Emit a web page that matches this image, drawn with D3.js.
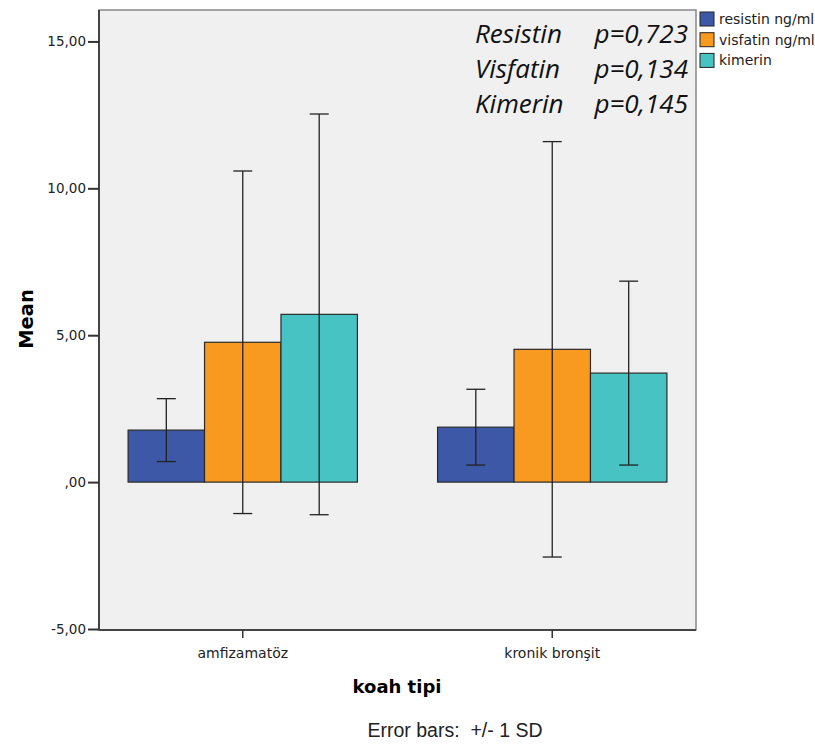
<!DOCTYPE html>
<html>
<head>
<meta charset="utf-8">
<script src="https://cdn.jsdelivr.net/npm/d3@7"></script>
<style>
  body { margin: 0; background: #fff; }
  svg { display: block; font-family: "DejaVu Sans", sans-serif; }
</style>
</head>
<body>
<div class="chart"></div>
<script>
// Data
const groups = ['amfizamatöz', 'kronik bronşit']
const series = ['resistin ng/ml', 'visfatin ng/ml', 'kimerin']
const means = [
    [1.77, 4.76, 5.71],
    [1.87, 4.52, 3.71],
]
const sds = [
    [1.07, 5.83, 6.82],
    [1.29, 7.07, 3.13],
]
const yTicks = [-5, 0, 5, 10, 15]
const notes = [
    ['Resistin', 'p=0,723'],
    ['Visfatin', 'p=0,134'],
    ['Kimerin', 'p=0,145'],
]

/* Configuration */
const width = 815
const height = 747
const plot = { left: 99, top: 10, right: 696, bottom: 630 }
const colors = ['#3e58a8', '#f89a1f', '#48c3c4']

const svg = d3
    .select('.chart')
    .append('svg')
    .attr('width', width)
    .attr('height', height)

const y = d3.scaleLinear().domain([-5, 16.07]).range([629, plot.top])

const x0 = d3
    .scaleBand()
    .domain(groups)
    .range([plot.left, plot.right])
    .paddingInner(0.259)
    .paddingOuter(0.094)

const x1 = d3.scaleBand().domain(series).range([0, x0.bandwidth()])

const color = d3.scaleOrdinal().domain(series).range(colors)

// Plot background
svg
    .append('rect')
    .attr('x', plot.left)
    .attr('y', plot.top)
    .attr('width', plot.right - plot.left)
    .attr('height', plot.bottom - plot.top)
    .attr('fill', '#f0f0f0')
    .attr('stroke', '#888')
    .attr('stroke-width', 1.5)

const rows = (g, gi) => series.map((s, si) => ({ s, v: means[gi][si], sd: sds[gi][si] }))

// Bars
const barG = svg
    .append('g')
    .selectAll('g')
    .data(groups)
    .join('g')
    .attr('transform', d => `translate(${x0(d)},0)`)

barG
    .selectAll('rect')
    .data(rows)
    .join('rect')
    .attr('x', d => x1(d.s))
    .attr('y', d => y(d.v))
    .attr('width', x1.bandwidth())
    .attr('height', d => y(0) - y(d.v))
    .attr('fill', d => color(d.s))
    .attr('stroke', '#2a2a2a')
    .attr('stroke-width', 1.2)

// Error bars
const err = barG
    .selectAll('g.err')
    .data(rows)
    .join('g')
    .attr('class', 'err')
    .attr('stroke', '#222')
    .attr('stroke-width', 1.3)

const capW = 9.5
const cx = d => x1(d.s) + x1.bandwidth() / 2
err
    .append('line')
    .attr('x1', cx)
    .attr('x2', cx)
    .attr('y1', d => y(d.v + d.sd))
    .attr('y2', d => y(d.v - d.sd))
err
    .append('line')
    .attr('x1', d => cx(d) - capW)
    .attr('x2', d => cx(d) + capW)
    .attr('y1', d => y(d.v + d.sd))
    .attr('y2', d => y(d.v + d.sd))
err
    .append('line')
    .attr('x1', d => cx(d) - capW)
    .attr('x2', d => cx(d) + capW)
    .attr('y1', d => y(d.v - d.sd))
    .attr('y2', d => y(d.v - d.sd))

// Y axis
const yAxis = svg
    .append('g')
    .attr('transform', `translate(${plot.left},0)`)
    .call(
        d3
            .axisLeft(y)
            .tickValues(yTicks)
            .tickSize(11)
            .tickPadding(2)
            .tickFormat(d => (d === 0 ? ',00' : d.toFixed(2).replace('.', ',')))
    )
    .attr('font-family', '"DejaVu Sans", sans-serif')
yAxis.select('.domain').attr('d', `M0,${plot.top}V${plot.bottom}`).attr('stroke', '#444').attr('stroke-width', 2)
yAxis.selectAll('.tick line').attr('stroke', '#333').attr('stroke-width', 2)
yAxis.selectAll('text').attr('font-size', 13.5).attr('fill', '#222')

// X axis
const xAxis = svg
    .append('g')
    .attr('transform', `translate(0,${plot.bottom})`)
    .call(d3.axisBottom(x0).tickSize(8).tickPadding(10))
    .attr('font-family', '"DejaVu Sans", sans-serif')
xAxis.select('.domain').attr('d', `M${plot.left},0H${plot.right}`).attr('stroke', '#444').attr('stroke-width', 2)
xAxis.selectAll('.tick line').attr('stroke', '#333').attr('stroke-width', 1.5)
xAxis.selectAll('text').attr('font-size', 14).attr('fill', '#222')

// Axis titles
svg
    .append('text')
    .attr('transform', `translate(33,319) rotate(-90)`)
    .attr('text-anchor', 'middle')
    .attr('font-size', 19.5)
    .attr('font-weight', 'bold')
    .text('Mean')

svg
    .append('text')
    .attr('x', 397)
    .attr('y', 693)
    .attr('text-anchor', 'middle')
    .attr('font-size', 18)
    .attr('font-weight', 'bold')
    .text('koah tipi')

svg
    .append('text')
    .attr('x', 455)
    .attr('y', 737)
    .attr('text-anchor', 'middle')
    .attr('font-size', 19.5)
    .attr('fill', '#222')
    .attr('xml:space', 'preserve')
    .style('font-family', '"Liberation Sans", Arial, sans-serif')
    .text('Error bars:  +/- 1 SD')

// Legend
const legend = svg
    .append('g')
    .attr('transform', 'translate(700,12)')
    .selectAll('g')
    .data(series)
    .join('g')
    .attr('transform', (d, i) => `translate(0,${i * 20.7})`)
legend
    .append('rect')
    .attr('width', 14)
    .attr('height', 14)
    .attr('fill', d => color(d))
    .attr('stroke', '#222')
    .attr('stroke-width', 1)
legend
    .append('text')
    .attr('x', 19)
    .attr('y', 12)
    .attr('font-size', 14)
    .attr('fill', '#222')
    .text(d => d)

// p-value notes
const noteG = svg
    .append('g')
    .attr('font-style', 'italic')
    .attr('font-size', 26)
    .attr('fill', '#111')
    .style('font-family', '"Open Sans", "Noto Sans", sans-serif')
    .selectAll('g')
    .data(notes)
    .join('g')
    .attr('transform', (d, i) => `translate(0,${43 + i * 35})`)
noteG.append('text').attr('x', 475).text(d => d[0])
noteG.append('text').attr('x', 688).attr('text-anchor', 'end').text(d => d[1])
</script>
</body>
</html>
